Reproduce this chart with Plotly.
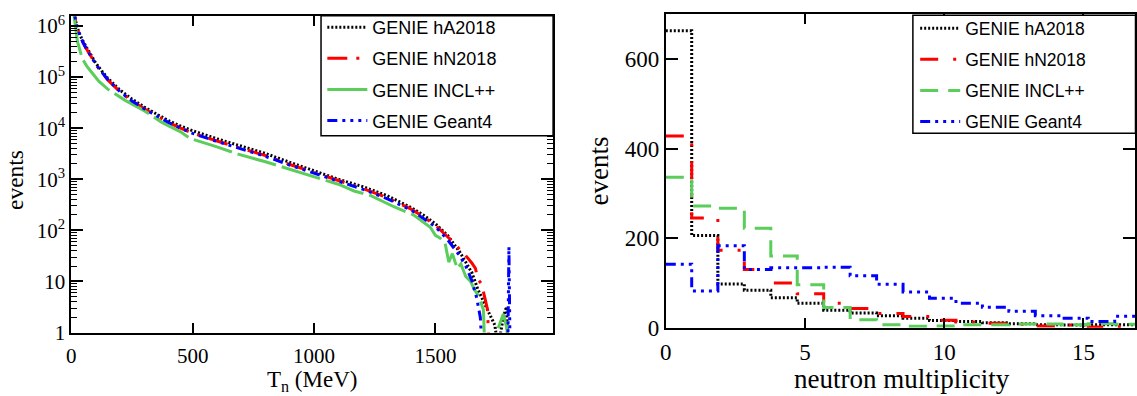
import plotly.graph_objects as go

# ---------------- Left panel: neutron kinetic energy T_n (MeV) ----------------
t_hA = [8, 15, 25, 40, 60, 80, 100, 125, 150, 200, 250, 300, 350, 400, 450, 500, 600, 700, 800, 900,
        1000, 1100, 1200, 1300, 1400, 1450, 1500, 1550, 1600, 1625, 1650, 1675, 1700, 1725, 1745,
        1758, 1780, 1793, 1800]
ev_hA = [3e6, 1.4e6, 9e5, 6e5, 4e5, 2.7e5, 1.9e5, 1.32e5, 9.5e4, 5.6e4, 3.7e4, 2.6e4, 1.9e4, 1.4e4,
         1.1e4, 8.9e3, 6.2e3, 4.4e3, 3.2e3, 2.15e3, 1.45e3, 1.0e3, 720, 480, 280, 200, 135, 80, 38,
         24, 15, 7, 3.8, 2.2, 1.4, 0.5, 2.0, 3.2, 0.3]

t_hN = [8, 15, 25, 40, 60, 80, 100, 125, 150, 200, 250, 300, 350, 400, 450, 500, 600, 700, 800, 900,
        1000, 1100, 1200, 1300, 1400, 1450, 1500, 1550, 1580, 1600, 1625, 1650, 1665, 1675, 1690,
        1705, 1715, 1722]
ev_hN = [3e6, 1.4e6, 8.5e5, 5.6e5, 3.7e5, 2.55e5, 1.8e5, 1.25e5, 8.8e4, 5.2e4, 3.4e4, 2.4e4, 1.75e4,
         1.3e4, 1.0e4, 8.0e3, 5.6e3, 4.0e3, 2.9e3, 1.95e3, 1.35e3, 950, 660, 440, 260, 185, 125, 75,
         55, 42, 32, 23, 18, 11, 9, 4.5, 2.8, 0.3]

t_incl = [11, 18, 25, 45, 65, 86, 113, 150, 222, 300, 373, 450, 489, 600, 687, 800, 851, 950, 1022,
          1100, 1165, 1234, 1329, 1411, 1479, 1500, 1520, 1540, 1555, 1570, 1590, 1605, 1625, 1645,
          1660, 1680, 1698, 1705, 1752, 1780, 1795, 1800]
ev_incl = [1.6e6, 8e5, 5e5, 2.3e5, 1.6e5, 1.2e5, 8.3e4, 5.8e4, 3.5e4, 2.2e4, 1.3e4, 8.5e3, 6.3e3,
           4.3e3, 3.1e3, 2.2e3, 1.85e3, 1.3e3, 1.05e3, 800, 590, 480, 290, 200, 115, 80, 70, 56, 24,
           35, 18, 22, 12.5, 10, 7, 5, 2.75, 0.3, 1.0, 2.3, 1.2, 0.3]

t_g4 = [8, 15, 25, 40, 60, 80, 100, 125, 150, 200, 250, 300, 350, 400, 450, 500, 600, 700, 800, 900,
        1000, 1100, 1200, 1300, 1400, 1450, 1500, 1550, 1600, 1625, 1650, 1670, 1685, 1695, 1798,
        1803, 1808]
ev_g4 = [3e6, 1.5e6, 9e5, 5.7e5, 3.7e5, 2.55e5, 1.8e5, 1.25e5, 9e4, 5.2e4, 3.4e4, 2.4e4, 1.75e4,
         1.3e4, 1.0e4, 7.9e3, 5.5e3, 3.9e3, 2.8e3, 1.9e3, 1.3e3, 920, 640, 420, 250, 175, 118, 66,
         32, 20, 10.5, 4.8, 2.0, 0.3, 0.3, 48, 0.3]

# ---------------- Right panel: neutron multiplicity histograms ----------------
mult_edges = [0, 0.93, 1.87, 2.82, 3.77, 4.72, 5.67, 6.62, 7.57, 8.52, 9.47, 10.42, 11.37, 12.32,
              13.27, 14.22, 15.17, 16.12, 17.07]
h_hA = [663, 206, 98, 84, 67, 55, 39, 33, 27, 21, 16, 14, 11, 9, 7, 6, 7, 7]
h_hN = [428, 245, 173, 130, 100, 76, 55, 43, 32, 25, 17, 13, 10, 8, 4, 6, 2, 3]
h_incl = [336, 272, 267, 222, 160, 96, 45, 18, 7, 3.5, 4, 7, 7, 8.5, 8.5, 7, 9, 8]
h_g4 = [142, 82, 183, 130, 134, 134, 135, 116, 97, 80, 66, 55, 46, 37, 27, 21, 14, 26]

names = ["GENIE hA2018", "GENIE hN2018", "GENIE INCL++", "GENIE Geant4"]
colors = ["#000000", "#ff0000", "#5acd5a", "#0000ff"]
dash_left = ["2px,2px", "20px,9px,3px,9px", "40px,6px", "10px,5px,3px,5px,3px,5px,3px,5px"]
dash_right = ["2px,2px", "18px,15px,3px,15px", "18px,10px", "10px,5px,3px,5px,3px,5px,3px,5px"]

W, H = 1137, 396
SERIF = "Liberation Serif, Times New Roman, serif"
SANS = "Liberation Sans, Arial, sans-serif"

fig = go.Figure()

left_sets = [(t_hA, ev_hA), (t_hN, ev_hN), (t_incl, ev_incl), (t_g4, ev_g4)]
for i, (tx, ey) in enumerate(left_sets):
    fig.add_trace(go.Scatter(
        x=tx, y=ey, mode="lines", name=names[i],
        line=dict(color=colors[i], width=3, dash=dash_left[i]),
        xaxis="x", yaxis="y", legend="legend", legendgroup="L%d" % i))

right_sets = [h_hA, h_hN, h_incl, h_g4]
for i, hv in enumerate(right_sets):
    fig.add_trace(go.Scatter(
        x=mult_edges, y=list(hv) + [hv[-1]], mode="lines", name=names[i],
        line=dict(color=colors[i], width=3, dash=dash_right[i], shape="hv"),
        xaxis="x2", yaxis="y2", legend="legend2", legendgroup="R%d" % i))

def px_x(p):
    return p / W

def px_y(p):
    return (H - p) / H

# plot area geometry (pixels)
L_left, L_right, L_top, L_bot = 65.7, 550, 12.3, 343.3
R_left, R_right, R_top, R_bot = 663.3, 1135, 10.7, 338.3

minor_log = [m * 10 ** k for k in range(0, 7) for m in range(2, 10)]

axis_common = dict(showline=True, linecolor="black", linewidth=2, mirror="allticks",
                   ticks="inside", tickcolor="black", tickwidth=1.5, showgrid=False,
                   zeroline=False)

fig.update_layout(
    width=W, height=H,
    margin=dict(l=0, r=0, t=0, b=0),
    paper_bgcolor="white", plot_bgcolor="white",
    showlegend=True,
    xaxis=dict(domain=[px_x(L_left), px_x(L_right)], range=[0, 1985], anchor="y",
               tickvals=[0, 500, 1000, 1500], ticklen=10, ticklabelstandoff=3,
               tickfont=dict(family=SERIF, size=21, color="black"), **axis_common),
    yaxis=dict(domain=[px_y(L_bot), px_y(L_top)], type="log", range=[0, 6.2], anchor="x",
               tickvals=[1, 10, 100, 1e3, 1e4, 1e5, 1e6],
               ticktext=["1", "10", "10<sup>2</sup>", "10<sup>3</sup>", "10<sup>4</sup>",
                         "10<sup>5</sup>", "10<sup>6</sup>"],
               ticklen=12,
               minor=dict(tickvals=minor_log, ticks="inside", ticklen=6, tickwidth=1.2,
                          tickcolor="black", showgrid=False),
               tickfont=dict(family=SERIF, size=21, color="black"), **axis_common),
    xaxis2=dict(domain=[px_x(R_left), px_x(R_right)], range=[0, 16.85], anchor="y2",
                tickvals=[0, 5, 10, 15], ticklen=10, ticklabelstandoff=3,
                tickfont=dict(family=SERIF, size=23, color="black"), **axis_common),
    yaxis2=dict(domain=[px_y(R_bot), px_y(R_top)], range=[0, 700], anchor="x2",
                tickvals=[0, 200, 400, 600], ticklen=12,
                tickfont=dict(family=SERIF, size=23, color="black"), **axis_common),
    legend=dict(x=px_x(318), y=px_y(5.3), xanchor="left", yanchor="top",
                font=dict(family=SANS, size=18, color="black"),
                bgcolor="rgba(0,0,0,0)", borderwidth=0, traceorder="grouped",
                tracegroupgap=4.7, itemwidth=40),
    legend2=dict(x=px_x(914), y=px_y(6.7), xanchor="left", yanchor="top",
                 font=dict(family=SANS, size=17.5, color="black"),
                 bgcolor="rgba(0,0,0,0)", borderwidth=0, traceorder="grouped",
                 tracegroupgap=5.3, itemwidth=40),
    shapes=[
        dict(type="rect", xref="paper", yref="paper", layer="above",
             x0=px_x(316.7), x1=px_x(550), y0=px_y(137.7), y1=px_y(12.3),
             line=dict(color="black", width=1.5), fillcolor="white"),
        dict(type="rect", xref="paper", yref="paper", layer="above",
             x0=px_x(911.7), x1=px_x(1135.5), y0=px_y(135), y1=px_y(11.7),
             line=dict(color="black", width=1.5), fillcolor="white"),
    ],
    annotations=[
        dict(text="events", xref="paper", yref="paper", x=px_x(9), y=px_y(184),
             showarrow=False, textangle=-90, xanchor="center", yanchor="middle",
             font=dict(family=SERIF, size=23.5, color="black")),
        dict(text="T<sub>n</sub> (MeV)", xref="paper", yref="paper", x=px_x(307.5),
             y=px_y(394), showarrow=False, xanchor="center", yanchor="middle",
             font=dict(family=SERIF, size=23, color="black")),
        dict(text="events", xref="paper", yref="paper", x=px_x(596), y=px_y(174),
             showarrow=False, textangle=-90, xanchor="center", yanchor="middle",
             font=dict(family=SERIF, size=27, color="black")),
        dict(text="neutron multiplicity", xref="paper", yref="paper", x=px_x(900.5),
             y=px_y(392), showarrow=False, xanchor="center", yanchor="middle",
             font=dict(family=SERIF, size=27, color="black")),
    ],
)

fig.write_html("out.html")
